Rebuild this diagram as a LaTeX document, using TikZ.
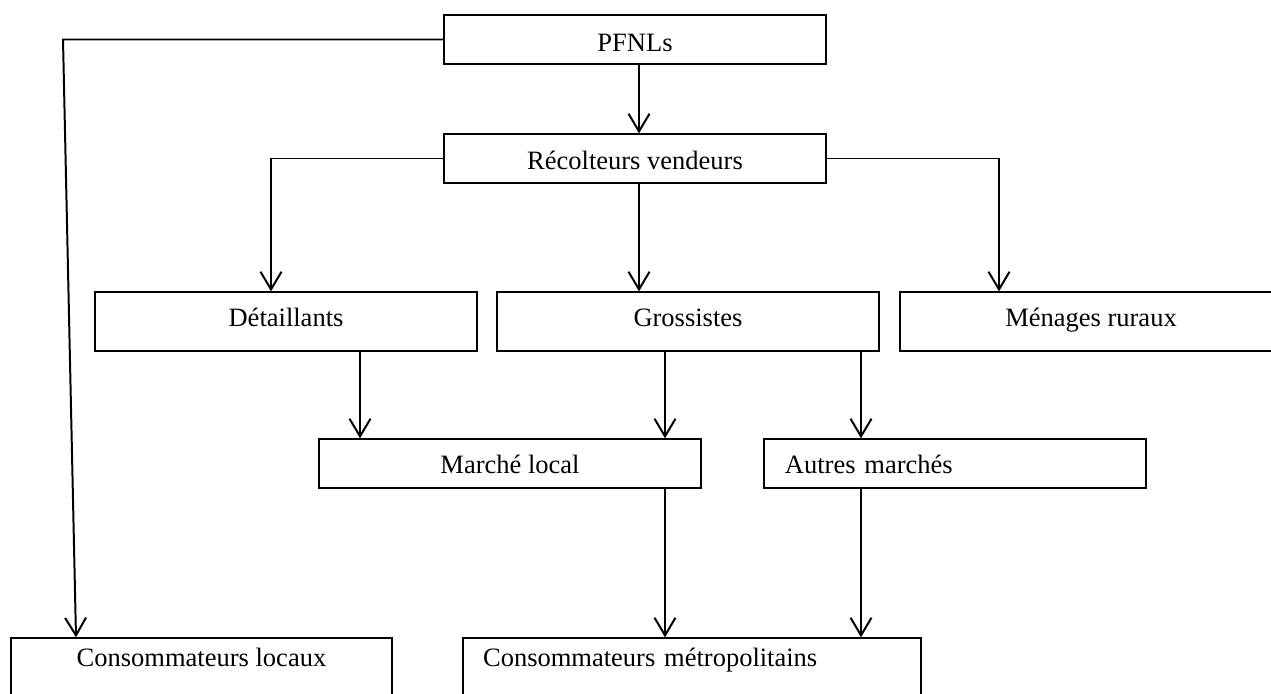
\documentclass[tikz,border=0pt]{standalone}
\usepackage{fontspec}
\setmainfont{Liberation Serif}
\usetikzlibrary{arrows.meta,calc}
\tikzset{
  boite/.style={draw, line width=0.6pt, inner sep=0pt, text depth=0pt,
    minimum width=173pt, minimum height=22.2pt},
  haute/.style={boite, minimum height=26.7pt},
  basse/.style={boite, minimum height=28.1pt, text height=0pt, text depth=2.7pt},
  gauche/.style={align=left, inner xsep=#1, text width=173pt-2*#1}
}
\begin{document}
\begin{tikzpicture}[x=0.4528pt, y=-0.4528pt, font=\fontsize{12pt}{14pt}\selectfont,
    line width=0.9pt, >={Straight Barb[length=8pt,width=9.5pt]}]
  \useasboundingbox (0,0) rectangle (1271,693);
  % boites
  \node[boite, text height=11pt] (pfnl) at (635,39.5) {PFNLs};
  \node[boite, text height=9.8pt] (rec) at (635,158.5) {Récolteurs vendeurs};
  \node[haute, text height=4.7pt] (det) at (286,321.5) {Détaillants};
  \node[haute, text height=4.7pt] (gro) at (688,321.5) {Grossistes};
  \node[haute, text height=4.7pt] (men) at (1091,321.5) {Ménages ruraux};
  \node[boite, text height=9.5pt] (ml) at (510,463.5) {Marché local};
  \node[boite, text height=9.5pt, gauche=9.5pt] (am) at (955,463.5) {Autres marchés};
  \node[basse, minimum width=172.5pt] (cl) at (201.5,669) {Consommateurs locaux};
  \node[basse, minimum width=207.4pt, align=left, inner xsep=9.1pt, text width=189.2pt] (cm) at (692,669) {Consommateurs métropolitains};
  % fleches
  \coordinate (coin) at (63,39.5);
  \coordinate (fin) at ($(cl.north)+(-125.5,0)$);
  \draw[->] (pfnl.west) -- (coin) -- (fin);
  \draw[->] (rec.west) -| ($(det.north)+(-15,0)$);
  \draw[->] (rec.east) -| ($(men.north)+(-92,0)$);
  \foreach \a/\b/\x in {pfnl/rec/639, rec/gro/639, det/ml/360, gro/ml/665, gro/am/861, ml/cm/665, am/cm/861}
    \draw[->] (\a.south -| \x,0) -- (\b.north -| \x,0);
\end{tikzpicture}
\end{document}
